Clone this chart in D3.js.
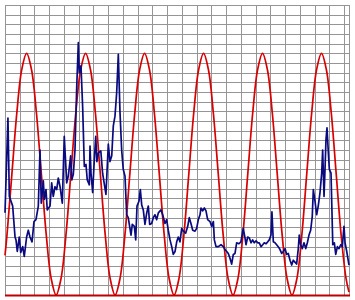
<!DOCTYPE html>
<html>
<head>
<meta charset="utf-8">
<script src="https://cdn.jsdelivr.net/npm/d3@7"></script>
<style>
  body { margin: 0; background: #fff; }
  svg { display: block; }
  .grid line { stroke: #959595; stroke-width: 1; shape-rendering: crispEdges; }
  .grid .domain { display: none; }
  .grid text { display: none; }
</style>
</head>
<body>
<svg width="355" height="300"></svg>
<script>
// model curve: samples at x = 0, then every 5 units from 2, then 350
var sineX = [0].concat(d3.range(2, 350, 5), [350]);
var sineValues = [
    41,
    62, 125, 188, 233, 250, 233, 188, 125, 62, 17, 0, 17,
    62, 125, 188, 233, 250, 233, 188, 125, 62, 17, 0, 17,
    62, 125, 188, 233, 250, 233, 188, 125, 62, 17, 0, 17,
    62, 125, 188, 233, 250, 233, 188, 125, 62, 17, 0, 17,
    62, 125, 188, 233, 250, 233, 188, 125, 62, 17, 0, 17,
    62, 125, 188, 233, 250, 233, 188, 125, 62, 17,
    3
];

var obsX = [
    0, 3, 4.4, 7.8, 10.2, 11.2, 12.5, 14.5, 16, 18, 19.6, 22, 23.7, 25.4, 27.5, 29.5, 31.5, 33.9,
    35.6, 36.9, 39, 40, 41.7, 43, 45.8, 47.5, 49.1, 50.9, 52.6, 54.2, 56, 58.3, 60.3, 62.8, 64.4,
    66.8, 67.9, 69.5, 71.2, 72.9, 74.6, 75.6, 77.3, 79, 80.7, 82.4, 83.7, 85.8, 86.5, 87.5, 89.2,
    90.5, 92.3, 93.5, 95, 97.5, 99.3, 102.7, 105.1, 106.8, 108.6, 110.2, 111.9, 113.6, 115.3, 117,
    118.7, 120.3, 122.1, 123.8, 125.4, 128.2, 129.5, 131.6, 133, 134.3, 136.3, 137.7, 139.1, 140.7,
    142.4, 144.2, 145.8, 147.2, 149.2, 150.9, 152.6, 154.3, 156, 158.7, 160.4, 162.8, 164.5, 166.1,
    167.9, 169.6, 171.2, 173, 174.7, 176.3, 178, 179.8, 181.4, 183.8, 185.9, 187.5, 189.2, 191,
    193.3, 195, 196.7, 198.4, 199.4, 201.1, 202.8, 204.5, 206.2, 208.6, 210.3, 212, 213, 214.7, 217,
    219.8, 222.1, 223.8, 225.6, 227.2, 228.9, 230.6, 232.3, 234, 235.7, 238, 240, 242.4, 244.2,
    245.2, 246.9, 248.6, 250.3, 252, 253.6, 255.4, 257.1, 258.7, 260.5, 262.2, 263.8, 265.6, 267.3,
    268.9, 270.6, 271.6, 273, 274.7, 276.4, 278, 279.8, 281.5, 283.1, 284.9, 286.6, 288.2, 290,
    291.7, 293.3, 295, 296.7, 298.4, 299.4, 300.8, 302.5, 304.2, 306, 307.6, 309.3, 311, 312.6,
    313.7, 315.4, 317.1, 318.7, 320.5, 322.2, 323.2, 324.6, 325.6, 326.6, 327.6, 329, 330, 331.7,
    333.5, 335.1, 336.5, 338.2, 339.8, 341.6, 343.2, 344.9, 346, 347.7, 350
];
var obsValues = [
    85, 183, 102, 92, 60, 57, 45, 60, 44, 50, 40, 60, 67, 60, 55, 76, 78, 92,
    150, 95, 118, 99, 109, 88, 92, 116, 102, 112, 109, 121, 112, 95, 164, 116, 123,
    144, 119, 125, 150, 213, 261, 230, 237, 195, 133, 135, 119, 114, 154, 126, 106,
    133, 164, 138, 147, 149, 126, 104, 156, 138, 144, 175, 185, 209, 249, 189,
    150, 130, 123, 83, 80, 62, 73, 71, 57, 92, 97, 109, 93, 88,
    73, 85, 92, 73, 74, 80, 83, 78, 85, 88, 83, 74, 78, 67,
    57, 50, 42, 45, 55, 60, 55, 69, 66, 64, 71, 80, 74, 67,
    66, 69, 78, 83, 90, 87, 90, 87, 78, 76, 71, 76, 57, 50, 50,
    52, 50, 47, 45, 43, 38, 32, 42, 43, 54, 53, 55, 69, 59,
    52, 60, 59, 54, 57, 54, 56, 54, 54, 50, 52, 54, 53, 55,
    57, 62, 86, 55, 54, 52, 50, 47, 43, 45, 48, 42, 43, 36,
    31, 36, 34, 32, 48, 62, 52, 48, 54, 48, 54, 62, 67, 81,
    109, 97, 83, 92, 106, 126, 150, 102, 130, 161, 173, 147, 130, 126,
    52, 54, 42, 50, 48, 52, 50, 71, 54, 45, 31
];

var xTicks = d3.range(0, 346, 15);
var yTicks = d3.range(0, 301, 10);

var svg = d3.select('svg');
var plotLeft = 5, plotRight = 349, plotTop = 5, plotBottom = 295;

var x = d3.scaleLinear().domain([0, 350]).range([plotLeft, plotRight]);
var y = d3.scaleLinear().domain([0, 300]).range([plotBottom, plotTop]);

// vertical grid
svg.append('g')
    .attr('class', 'grid')
    .attr('transform', 'translate(0,' + plotBottom + ')')
    .call(d3.axisBottom(x).tickValues(xTicks).tickSize(-(plotBottom - plotTop)).tickFormat(''));

// horizontal grid
svg.append('g')
    .attr('class', 'grid')
    .attr('transform', 'translate(' + plotLeft + ',0)')
    .call(d3.axisLeft(y).tickValues(yTicks).tickSize(-(plotRight - plotLeft)).tickFormat(''));

// right edge of the plot area
svg.append('line')
    .attr('x1', plotRight + 0.5).attr('x2', plotRight + 0.5)
    .attr('y1', plotTop).attr('y2', plotBottom)
    .attr('stroke', '#959595');

var sinePoints = sineValues.map(function(v, i) { return [sineX[i], v]; });
var obsPoints = obsValues.map(function(v, i) { return [obsX[i], v]; });

var line = d3.line()
    .x(function(d) { return x(d[0]); })
    .y(function(d) { return y(d[1]); });

svg.append('path')
    .datum(sinePoints)
    .attr('fill', 'none')
    .attr('stroke', '#d80000')
    .attr('stroke-width', 1.7)
    .attr('d', line.curve(d3.curveCatmullRom));

svg.append('path')
    .datum(obsPoints)
    .attr('fill', 'none')
    .attr('stroke', '#0a0a80')
    .attr('stroke-width', 1.7)
    .attr('stroke-linejoin', 'round')
    .attr('d', line.curve(d3.curveLinear));

// baseline
svg.append('line')
    .attr('x1', plotLeft).attr('x2', plotRight + 1)
    .attr('y1', plotBottom + 0.5).attr('y2', plotBottom + 0.5)
    .attr('stroke', '#c00000')
    .attr('stroke-width', 2);
</script>
</body>
</html>
